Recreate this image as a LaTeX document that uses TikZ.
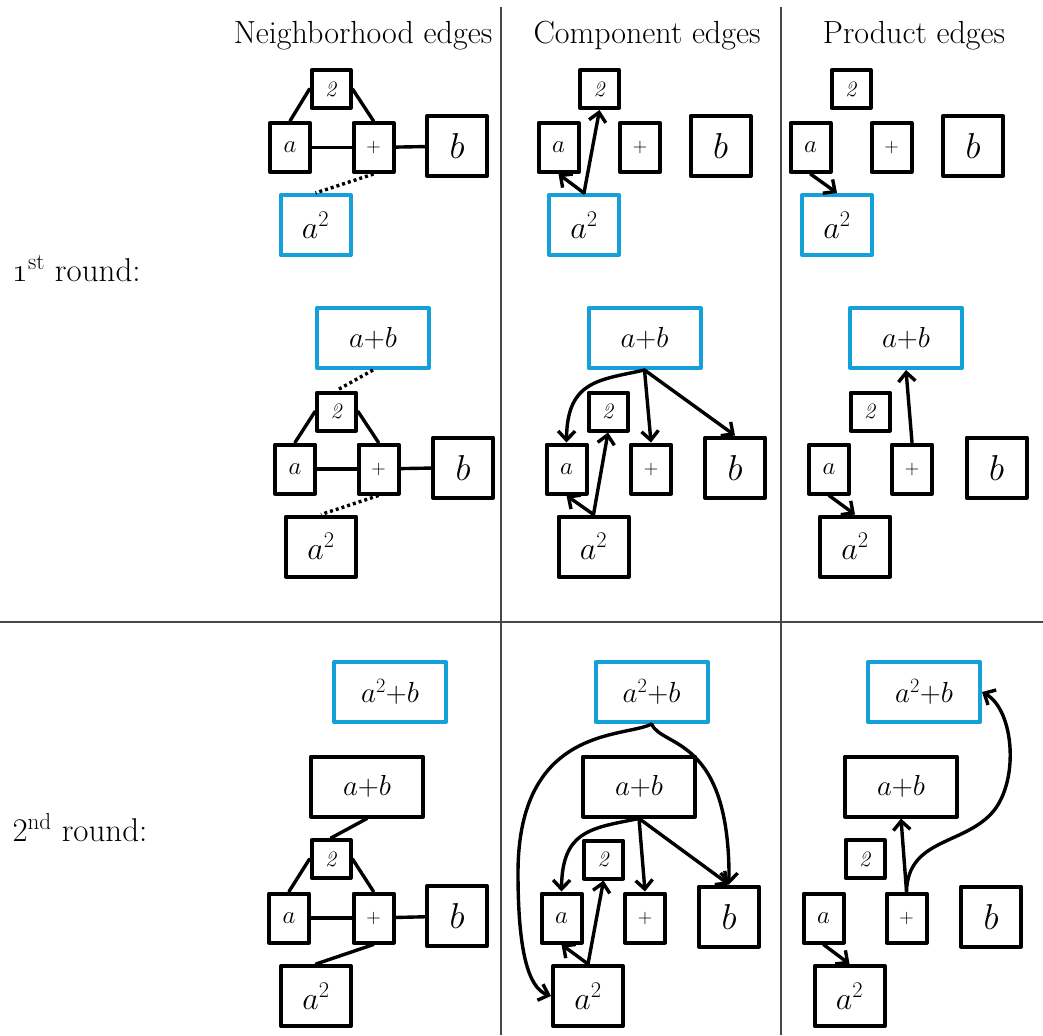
\RequirePackage{fix-cm}
\documentclass[tikz,border=0pt]{standalone}
\usetikzlibrary{arrows.meta}
\definecolor{hlblue}{RGB}{22,160,218}
\definecolor{rule}{RGB}{70,70,70}

\tikzset{
  box/.style={draw, line width=4pt, line join=round, inner sep=0pt, fill=white},
  hl/.style={draw=hlblue},
  smallbox/.style={box, minimum width=40pt, minimum height=49pt, font=\fontsize{25}{25}\selectfont},
  twobox/.style={box, minimum width=39pt, minimum height=38pt, font=\fontsize{22}{22}\selectfont},
  bbox/.style={box, minimum width=60pt, minimum height=60pt, font=\fontsize{36}{36}\selectfont},
  sqbox/.style={box, minimum width=70pt, minimum height=60pt, font=\fontsize{32}{32}\selectfont},
  widebox/.style={box, minimum width=112pt, minimum height=60pt, font=\fontsize{29}{29}\selectfont},
  link/.style={line width=3.4pt, line cap=round},
  dots/.style={line width=3.4pt, dash pattern=on 3pt off 3pt},
  arr/.style={link, -{Straight Barb[length=9pt,width=17pt,line width=3.4pt]}},
  sepline/.style={draw=rule, line width=1.6pt},
  header/.style={anchor=base, font=\fontsize{32}{38}\selectfont},
  rowlabel/.style={anchor=base west, font=\fontsize{33}{38}\selectfont},
}

% label macros
\newcommand{\lblA}{$a$}
\newcommand{\lblP}{\fontsize{20}{20}\selectfont$+$}
\newcommand{\lblT}{\textit{2}}
\newcommand{\lblB}{$b$}
\newcommand{\lblSq}{$a^{2}$}
\newcommand{\lblApB}{$a{+}b$}
\newcommand{\lblSqpB}{$a^{2}{+}b$}

\begin{document}
\begin{tikzpicture}[x=1pt, y=-1pt]
\useasboundingbox (0,0) rectangle (1043,1035);

% table rules
\draw[sepline] (501,7) -- (501,1035);
\draw[sepline] (781,7) -- (781,1035);
\draw[sepline] (0,622) -- (1043,622);

% column and row headings
\node[header] (hN) at (363,44) {Neighborhood edges};
\node[header] (hC) at (647,44) {Component edges};
\node[header] (hP) at (914,44) {Product edges};
\node[rowlabel] (r1) at (9,281) {\oldstylenums{1}\textsuperscript{st} round:};
\node[rowlabel] (r2) at (9,841) {2\textsuperscript{nd} round:};

% ---------- round 1, expression a^2 ----------
% neighborhood
\node[twobox]   (n1two)  at (331,89)    {\lblT};
\node[smallbox] (n1a)    at (290,147.5) {\lblA};
\node[smallbox] (n1plus) at (373.5,147.5) {\lblP};
\node[bbox]     (n1b)    at (457,146)   {\lblB};
\node[sqbox,hl] (n1sq)   at (315.5,225) {\lblSq};
\draw[link] (n1a.north) -- (n1two.west);
\draw[link] (n1two.east) -- (n1plus.north);
\draw[link] (n1a) -- (n1plus);
\draw[link] (n1plus) -- (n1b);
\draw[dots] (n1plus.south) -- (n1sq.north);

% component
\node[twobox]   (c1two)  at (599.5,89)  {\lblT};
\node[smallbox] (c1a)    at (558.5,147.5) {\lblA};
\node[smallbox] (c1plus) at (640,147.5) {\lblP};
\node[bbox]     (c1b)    at (720.5,146) {\lblB};
\node[sqbox,hl] (c1sq)   at (584,225)   {\lblSq};
\draw[arr] (c1sq.north) -- (c1two.south);
\draw[arr] (c1sq.north) -- (c1a.south);

% product
\node[twobox]   (p1two)  at (851,89)    {\lblT};
\node[smallbox] (p1a)    at (810.5,147.5) {\lblA};
\node[smallbox] (p1plus) at (891.5,147.5) {\lblP};
\node[bbox]     (p1b)    at (973,146)   {\lblB};
\node[sqbox,hl] (p1sq)   at (837,225)   {\lblSq};
\draw[arr] (p1a.south) -- (p1sq.north);

% ---------- round 1, expression a+b ----------
% neighborhood
\node[widebox,hl] (n1apb)  at (373,338)    {\lblApB};
\node[twobox]     (n1two')  at (336.5,411.5) {\lblT};
\node[smallbox]   (n1a')    at (295,469)     {\lblA};
\node[smallbox]   (n1plus') at (378.5,469)   {\lblP};
\node[bbox]       (n1b')    at (463,467.5)   {\lblB};
\node[sqbox]      (n1sq')   at (321,546.5)   {\lblSq};
\draw[dots] (n1apb.south) -- (n1two'.north);
\draw[link] (n1a'.north) -- (n1two'.west);
\draw[link] (n1two'.east) -- (n1plus'.north);
\draw[link] (n1a') -- (n1plus');
\draw[link] (n1plus') -- (n1b');
\draw[dots] (n1plus'.south) -- (n1sq'.north);

% component
\node[widebox,hl] (c1apb)   at (644.5,338)   {\lblApB};
\node[twobox]     (c1two')  at (608,411.5)   {\lblT};
\node[smallbox]   (c1a')    at (566.5,469)   {\lblA};
\node[smallbox]   (c1plus') at (651,469)     {\lblP};
\node[bbox]       (c1b')    at (735,467.5)   {\lblB};
\node[sqbox]      (c1sq')   at (593.5,546.5) {\lblSq};
\draw[arr] (c1apb.south) .. controls (600,380) and (567,380) .. (c1a'.north);
\draw[arr] (c1apb.south) -- (c1plus'.north);
\draw[arr] (c1apb.south) -- (c1b'.north);
\draw[arr] (c1sq'.north) -- (c1two'.south);
\draw[arr] (c1sq'.north) -- (c1a'.south);

% product
\node[widebox,hl] (p1apb)   at (906,338)     {\lblApB};
\node[twobox]     (p1two')  at (870,411.5)   {\lblT};
\node[smallbox]   (p1a')    at (829,469)     {\lblA};
\node[smallbox]   (p1plus') at (912,469)     {\lblP};
\node[bbox]       (p1b')    at (996.5,467.5) {\lblB};
\node[sqbox]      (p1sq')   at (855,546.5)   {\lblSq};
\draw[arr] (p1plus'.north) -- (p1apb.south);
\draw[arr] (p1a'.south) -- (p1sq'.north);

% ---------- round 2, expression a^2+b ----------
% neighborhood
\node[widebox,hl] (n2sqpb) at (390,692)   {\lblSqpB};
\node[widebox]    (n2apb)  at (367,786.5) {\lblApB};
\node[twobox]     (n2two)  at (331,859)   {\lblT};
\node[smallbox]   (n2a)    at (289,918)   {\lblA};
\node[smallbox]   (n2plus) at (373.5,918) {\lblP};
\node[bbox]       (n2b)    at (457,916)   {\lblB};
\node[sqbox]      (n2sq)   at (316,996)   {\lblSq};
\draw[link] (n2apb.south) -- (n2two.north);
\draw[link] (n2a.north) -- (n2two.west);
\draw[link] (n2two.east) -- (n2plus.north);
\draw[link] (n2a) -- (n2plus);
\draw[link] (n2plus) -- (n2b);
\draw[link] (n2plus.south) -- (n2sq.north);

% component
\node[widebox,hl] (c2sqpb) at (651.5,692)   {\lblSqpB};
\node[widebox]    (c2apb)  at (639,786.5)   {\lblApB};
\node[twobox]     (c2two)  at (603.5,859.5) {\lblT};
\node[smallbox]   (c2a)    at (561.5,918)   {\lblA};
\node[smallbox]   (c2plus) at (645,918)     {\lblP};
\node[bbox]       (c2b)    at (729,916.5)   {\lblB};
\node[sqbox]      (c2sq)   at (588,996)     {\lblSq};
\draw[arr] (c2sqpb.south) .. controls (625,738) and (518,725) .. (518,873)
           .. controls (518,950) and (528,988) .. (c2sq.west);
\draw[arr] (c2sqpb.south) .. controls (662,748) and (730,735) .. (c2b.north);
\draw[arr] (c2apb.south) .. controls (592,828) and (562,830) .. (c2a.north);
\draw[arr] (c2apb.south) -- (c2plus.north);
\draw[arr] (c2apb.south) -- (c2b.north);
\draw[arr] (c2sq.north) -- (c2two.south);
\draw[arr] (c2sq.north) -- (c2a.south);

% product
\node[widebox,hl] (p2sqpb) at (924,692)    {\lblSqpB};
\node[widebox]    (p2apb)  at (901,786.5)  {\lblApB};
\node[twobox]     (p2two)  at (865,859)    {\lblT};
\node[smallbox]   (p2a)    at (823.5,918)  {\lblA};
\node[smallbox]   (p2plus) at (906.5,918)  {\lblP};
\node[bbox]       (p2b)    at (991,916.5)  {\lblB};
\node[sqbox]      (p2sq)   at (849.5,996)  {\lblSq};
\draw[arr] (p2plus.north) -- (p2apb.south);
\draw[arr] (p2plus.north) .. controls (908,840) and (960,845) .. (990,815)
           .. controls (1020,785) and (1015,710) .. (p2sqpb.east);
\draw[arr] (p2a.south) -- (p2sq.north);
\end{tikzpicture}
\end{document}
